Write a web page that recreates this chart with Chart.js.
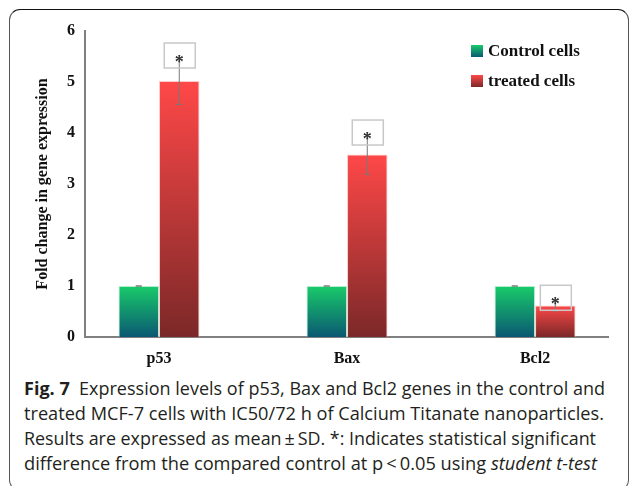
<!DOCTYPE html>
<html>
<head>
<meta charset="utf-8">
<script src="https://cdn.jsdelivr.net/npm/chart.js@4.4.1/dist/chart.umd.min.js"></script>
<style>
  html, body { margin: 0; padding: 0; background: #fff; }
  body { width: 629px; height: 486px; position: relative; overflow: hidden; }
  #frame { position: absolute; left: 9px; top: 9px; width: 620px; height: 482px; box-sizing: border-box;
           border: 1px solid #555; border-top-color: #111; border-radius: 11px; }
  #wrap { position: absolute; left: 0; top: 0; width: 629px; height: 370px; }
  .cap { position: absolute; left: 24px; white-space: nowrap; font-family: "Open Sans", "Noto Sans", sans-serif;
         font-size: 17.5px; line-height: 25px; color: #231f20; transform-origin: 0 50%; }
  .cap b { font-weight: 700; }
</style>
</head>
<body>
<div id="frame"></div>
<div id="wrap"><canvas id="c"></canvas></div>
<div class="cap" id="l1" data-w="581" style="top:376px"><b>Fig. 7</b>&nbsp; Expression levels of p53, Bax and Bcl2 genes in the control and</div>
<div class="cap" id="l2" data-w="580" style="top:401px">treated MCF-7 cells with IC50/72 h of Calcium Titanate nanoparticles.</div>
<div class="cap" id="l3" data-w="572" style="top:426px">Results are expressed as mean&#8201;±&#8201;SD. *: Indicates statistical significant</div>
<div class="cap" id="l4" data-w="573" style="top:451px">difference from the compared control at p&#8201;&lt;&#8201;0.05 using <i>student t-test</i></div>
<script>
// ---- data ----
const categories = ['p53', 'Bax', 'Bcl2'];
const seriesNames = ['Control cells', 'treated cells'];
const controlValues = [1, 1, 1];
const treatedValues = [5.02, 3.58, 0.62];
const controlSD = [0, 0, 0];
const treatedSD = [0.46, 0.39, 0.11];
const treatedSignificant = [true, true, true];
const yTickValues = [0, 1, 2, 3, 4, 5, 6];

// ---- styles ----
const controlTop = '#19cb6a', controlBottom = '#0a5872';
const treatedTop = '#ff4848', treatedBottom = '#7b2828';
const serifBold = { family: '"Liberation Serif", "Times New Roman", serif', size: 16, weight: 'bold' };

function barGradient(top, bottom) {
  return (ctx) => {
    const chart = ctx.chart;
    const ys = chart.scales && chart.scales.y;
    if (!ys || !chart.chartArea || !ctx.raw || ctx.raw.y === undefined) return top;
    const y0 = ys.getPixelForValue(ctx.raw.y);
    const y1 = ys.getPixelForValue(0);
    if (!isFinite(y0) || !isFinite(y1) || y0 === y1) return top;
    const g = chart.ctx.createLinearGradient(0, y0, 0, y1);
    g.addColorStop(0, top);
    g.addColorStop(1, bottom);
    return g;
  };
}

const sdBySeries = [controlSD, treatedSD];
const sigBySeries = [null, treatedSignificant];

const errorBars = {
  id: 'errorBars',
  afterDatasetsDraw(chart) {
    const ys = chart.scales.y;
    const c = chart.ctx;
    c.save();
    chart.data.datasets.forEach((ds, di) => {
      const meta = chart.getDatasetMeta(di);
      const sds = sdBySeries[di];
      meta.data.forEach((el, i) => {
        const v = ds.data[i].y, sd = sds[i];
        const x = el.x;
        const yT = ys.getPixelForValue(v + sd), yB = ys.getPixelForValue(v - sd);
        c.strokeStyle = '#7a7a7a';
        c.lineWidth = 1;
        c.beginPath();
        c.moveTo(x, yT); c.lineTo(x, yB);
        c.moveTo(x - 3, yT); c.lineTo(x + 3, yT);
        c.moveTo(x - 3, yB); c.lineTo(x + 3, yB);
        c.stroke();
        const sig = sigBySeries[di];
        if (sig && sig[i]) {
          const cy = yT - 2;
          c.strokeStyle = '#c8c8c8';
          c.lineWidth = 1.5;
          c.strokeRect(x - 15, cy - 12.5, 31, 25);
          c.fillStyle = '#333';
          c.font = 'bold 18px "Liberation Serif", serif';
          c.textAlign = 'center';
          c.textBaseline = 'alphabetic';
          c.fillText('*', x, yT + 10);
        }
      });
    });
    c.restore();
  }
};

const innerLegend = {
  id: 'innerLegend',
  afterDraw(chart) {
    const c = chart.ctx, a = chart.chartArea;
    const cols = [[controlTop, controlBottom], [treatedTop, treatedBottom]];
    c.save();
    chart.data.datasets.forEach((ds, i) => {
      const x = a.right - 137, y = a.top + 14 + i * 30;
      const g = c.createLinearGradient(0, y, 0, y + 12);
      g.addColorStop(0, cols[i][0]); g.addColorStop(1, cols[i][1]);
      c.fillStyle = g;
      c.fillRect(x, y, 12, 12);
      c.fillStyle = '#111';
      c.font = 'bold 17px "Liberation Serif", serif';
      c.textAlign = 'left';
      c.textBaseline = 'middle';
      c.fillText(ds.label, x + 17, y + 6.5);
    });
    c.restore();
  }
};

new Chart(document.getElementById('c'), {
  type: 'bar',
  data: {
    datasets: [
      {
        label: seriesNames[0],
        data: categories.map((_, i) => ({ x: i, y: controlValues[i] })),
        backgroundColor: barGradient(controlTop, controlBottom),
        borderColor: 'rgba(150,230,190,0.7)',
        borderWidth: { left: 1, right: 1, top: 1, bottom: 0 },
        borderSkipped: false
      },
      {
        label: seriesNames[1],
        data: categories.map((_, i) => ({ x: i, y: treatedValues[i] })),
        backgroundColor: barGradient(treatedTop, treatedBottom),
        borderColor: 'rgba(250,190,190,0.8)',
        borderWidth: { left: 1, right: 1, top: 1, bottom: 0 },
        borderSkipped: false
      }
    ]
  },
  options: {
    responsive: true,
    maintainAspectRatio: false,
    animation: false,
    categoryPercentage: 0.431,
    barPercentage: 1.0,
    layout: { padding: { left: 0, top: 31, right: 21, bottom: 0 } },
    plugins: { legend: { display: false }, tooltip: { enabled: false } },
    scales: {
      x: {
        type: 'linear',
        offset: false,
        min: -0.3936,
        max: 2.388,
        grid: { display: false, drawTicks: false, offset: false },
        border: { display: true, color: '#808080', width: 2 },
        afterBuildTicks: (s) => { s.ticks = categories.map((_, i) => ({ value: i })); },
        afterFit: (s) => { s.height = 33; },
        ticks: {
          autoSkip: false,
          maxRotation: 0,
          padding: 12,
          color: '#111',
          font: serifBold,
          callback: (v) => categories[v]
        }
      },
      y: {
        min: 0,
        max: 6,
        grid: { display: false, drawTicks: false },
        border: { display: true, color: '#808080', width: 2 },
        afterBuildTicks: (s) => { s.ticks = yTickValues.map(v => ({ value: v })); },
        afterFit: (s) => { s.width = 85; },
        ticks: { padding: 10, color: '#111', font: serifBold },
        title: {
          display: true,
          text: 'Fold change in gene expression',
          color: '#111',
          font: serifBold,
          padding: { top: 33, bottom: 4 }
        }
      }
    }
  },
  plugins: [errorBars, innerLegend]
});

// fit caption lines to the reference widths
document.querySelectorAll('.cap').forEach(el => {
  const w = el.getBoundingClientRect().width;
  const target = parseFloat(el.dataset.w);
  if (w > 0) el.style.transform = 'scaleX(' + (target / w).toFixed(4) + ')';
});
</script>
</body>
</html>
